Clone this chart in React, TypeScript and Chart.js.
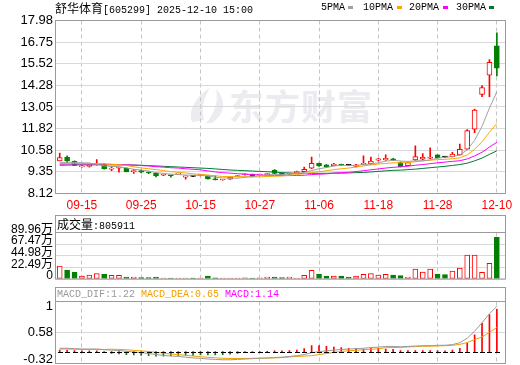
import React, { useEffect, useRef } from 'react';
import { Chart, registerables } from 'chart.js';

Chart.register(...registerables);

// ---------- data ----------
const dates = [
  '09-10', '09-11', '09-12', '09-15', '09-16', '09-17', '09-18', '09-19', '09-22', '09-23',
  '09-24', '09-25', '09-26', '09-29', '09-30', '10-09', '10-10', '10-13', '10-14', '10-15',
  '10-16', '10-17', '10-20', '10-21', '10-22', '10-23', '10-24', '10-27', '10-28', '10-29',
  '10-30', '10-31', '11-03', '11-04', '11-05', '11-06', '11-07', '11-10', '11-11', '11-12',
  '11-13', '11-14', '11-17', '11-18', '11-19', '11-20', '11-21', '11-24', '11-25', '11-26',
  '11-27', '11-28', '12-01', '12-02', '12-03', '12-04', '12-05', '12-08', '12-09', '12-10',
];
const opens = [
  9.98, 10.18, 9.96, 9.64, 9.66, 9.75, 9.78, 9.51, 9.56, 9.56,
  9.37, 9.42, 9.33, 9.27, 9.16, 9.18, 9.22, 9.05, 9.10, 9.15,
  9.12, 8.94, 8.89, 8.93, 9.08, 9.19, 9.22, 9.17, 9.20, 9.46,
  9.27, 9.22, 9.31, 9.37, 9.56, 9.84, 9.75, 9.71, 9.76, 9.72,
  9.66, 9.77, 9.80, 10.02, 10.03, 10.09, 9.88, 9.71, 10.03, 10.07,
  10.13, 10.32, 10.19, 10.22, 10.32, 10.64, 11.78, 13.77, 14.87, 16.53,
];
const highs = [
  10.43, 10.26, 9.98, 9.71, 9.75, 10.05, 9.82, 9.65, 9.63, 9.58,
  9.50, 9.45, 9.36, 9.29, 9.23, 9.19, 9.28, 9.13, 9.12, 9.21,
  9.14, 9.12, 8.93, 9.07, 9.15, 9.24, 9.23, 9.22, 9.25, 9.48,
  9.29, 9.29, 9.40, 9.62, 10.19, 9.86, 9.77, 9.84, 9.80, 9.75,
  9.78, 10.26, 10.19, 10.12, 10.32, 10.13, 9.92, 9.92, 10.83, 10.40,
  10.73, 10.34, 10.21, 10.47, 10.94, 11.76, 12.93, 14.27, 15.75, 17.28,
];
const lows = [
  9.97, 9.88, 9.70, 9.62, 9.62, 9.74, 9.50, 9.42, 9.33, 9.35,
  9.27, 9.30, 9.25, 9.07, 9.14, 9.05, 9.20, 8.93, 9.08, 9.12,
  8.93, 8.89, 8.88, 8.92, 9.06, 9.17, 9.06, 9.15, 9.18, 9.25,
  9.16, 9.20, 9.30, 9.36, 9.54, 9.67, 9.60, 9.69, 9.71, 9.70,
  9.64, 9.75, 9.78, 9.98, 10.00, 9.99, 9.63, 9.69, 10.01, 10.05,
  10.11, 10.14, 10.17, 10.20, 10.30, 10.62, 11.59, 13.64, 13.64, 14.82,
];
const closes = [
  10.17, 9.99, 9.72, 9.69, 9.72, 9.80, 9.54, 9.56, 9.61, 9.37,
  9.42, 9.33, 9.29, 9.12, 9.21, 9.13, 9.26, 9.12, 9.10, 9.19,
  8.95, 8.90, 8.92, 9.05, 9.13, 9.22, 9.08, 9.20, 9.23, 9.27,
  9.18, 9.27, 9.37, 9.50, 9.84, 9.69, 9.62, 9.79, 9.73, 9.72,
  9.75, 9.84, 9.97, 10.09, 10.13, 10.02, 9.65, 9.88, 10.22, 10.19,
  10.19, 10.16, 10.19, 10.37, 10.64, 11.70, 12.87, 14.16, 15.60, 15.26,
];
// volume in 万 (10k shares)
const volumes = [
  25.2, 16.8, 13.5, 5.8, 7.7, 10.3, 9.0, 7.1, 7.1, 3.9,
  3.9, 2.6, 2.6, 3.9, 2.0, 1.8, 1.9, 2.0, 1.7, 1.9,
  5.5, 2.1, 1.9, 2.0, 1.8, 2.1, 2.0, 2.2, 3.5, 3.5,
  2.6, 3.5, 2.0, 7.2, 16.8, 9.7, 5.8, 5.8, 5.8, 3.9,
  5.8, 9.0, 10.3, 7.7, 9.0, 7.7, 6.4, 3.9, 19.3, 13.5,
  19.3, 9.7, 8.4, 15.5, 21.3, 46.4, 46.4, 12.9, 30.3, 80.5911,
];
const ma5 = [
  9.87, 9.91, 9.89, 9.87, 9.86, 9.78, 9.69, 9.66, 9.65, 9.58,
  9.50, 9.46, 9.40, 9.31, 9.27, 9.22, 9.20, 9.17, 9.16, 9.16,
  9.12, 9.05, 9.01, 9.00, 8.99, 9.04, 9.08, 9.14, 9.17, 9.20,
  9.19, 9.23, 9.26, 9.32, 9.43, 9.53, 9.60, 9.69, 9.73, 9.71,
  9.72, 9.77, 9.80, 9.87, 9.96, 10.01, 9.97, 9.95, 9.98, 9.99,
  10.03, 10.13, 10.19, 10.22, 10.31, 10.61, 11.15, 11.95, 12.99, 13.92,
];
const ma10 = [
  9.83, 9.85, 9.84, 9.83, 9.82, 9.83, 9.80, 9.78, 9.76, 9.72,
  9.64, 9.58, 9.53, 9.48, 9.43, 9.36, 9.33, 9.29, 9.24, 9.22,
  9.17, 9.13, 9.09, 9.08, 9.08, 9.08, 9.07, 9.07, 9.09, 9.10,
  9.12, 9.16, 9.20, 9.25, 9.32, 9.36, 9.42, 9.48, 9.53, 9.57,
  9.63, 9.69, 9.75, 9.80, 9.83, 9.87, 9.87, 9.88, 9.93, 9.97,
  10.02, 10.05, 10.07, 10.10, 10.15, 10.32, 10.64, 11.07, 11.61, 12.11,
];
const ma20 = [
  9.79, 9.80, 9.80, 9.80, 9.80, 9.80, 9.79, 9.78, 9.77, 9.75,
  9.74, 9.71, 9.69, 9.65, 9.62, 9.59, 9.57, 9.53, 9.50, 9.47,
  9.41, 9.35, 9.31, 9.28, 9.25, 9.22, 9.20, 9.18, 9.16, 9.16,
  9.14, 9.14, 9.15, 9.16, 9.20, 9.22, 9.24, 9.28, 9.31, 9.33,
  9.37, 9.42, 9.47, 9.52, 9.57, 9.61, 9.64, 9.68, 9.73, 9.77,
  9.82, 9.87, 9.91, 9.95, 9.99, 10.09, 10.26, 10.47, 10.77, 11.04,
];
const ma30 = [
  9.73, 9.74, 9.75, 9.75, 9.75, 9.76, 9.76, 9.75, 9.75, 9.75,
  9.74, 9.73, 9.71, 9.69, 9.67, 9.65, 9.63, 9.61, 9.59, 9.57,
  9.55, 9.52, 9.49, 9.46, 9.44, 9.42, 9.40, 9.38, 9.36, 9.34,
  9.31, 9.29, 9.27, 9.27, 9.27, 9.27, 9.27, 9.28, 9.28, 9.29,
  9.31, 9.32, 9.35, 9.38, 9.41, 9.44, 9.45, 9.48, 9.51, 9.55,
  9.59, 9.63, 9.67, 9.72, 9.77, 9.85, 9.98, 10.14, 10.35, 10.55,
];
const dif = [
  0.09, 0.09, 0.08, 0.07, 0.07, 0.07, 0.05, 0.04, 0.03, 0.01,
  -0.01, -0.03, -0.05, -0.08, -0.10, -0.12, -0.13, -0.15, -0.17, -0.18,
  -0.20, -0.21, -0.22, -0.22, -0.21, -0.20, -0.19, -0.18, -0.17, -0.16,
  -0.15, -0.13, -0.11, -0.08, -0.03, 0.00, 0.02, 0.04, 0.06, 0.07,
  0.08, 0.09, 0.11, 0.12, 0.14, 0.14, 0.13, 0.14, 0.15, 0.16,
  0.16, 0.17, 0.17, 0.19, 0.24, 0.36, 0.55, 0.78, 1.02, 1.22,
];
const dea = [
  0.07, 0.07, 0.065, 0.06, 0.06, 0.06, 0.06, 0.065, 0.06, 0.05,
  0.035, 0.02, 0.005, -0.02, -0.04, -0.065, -0.08, -0.10, -0.12, -0.135,
  -0.155, -0.165, -0.18, -0.185, -0.185, -0.185, -0.18, -0.175, -0.175, -0.17,
  -0.16, -0.145, -0.13, -0.12, -0.11, -0.08, -0.05, -0.02, 0.005, 0.025,
  0.035, 0.055, 0.065, 0.075, 0.105, 0.11, 0.115, 0.125, 0.135, 0.145,
  0.145, 0.155, 0.16, 0.17, 0.195, 0.245, 0.325, 0.395, 0.52, 0.65,
];
const macd = [
  0.04, 0.04, 0.03, 0.02, 0.02, 0.02, -0.02, -0.05, -0.06, -0.08,
  -0.09, -0.10, -0.11, -0.12, -0.12, -0.11, -0.10, -0.10, -0.10, -0.09,
  -0.09, -0.09, -0.08, -0.07, -0.05, -0.03, -0.02, -0.01, 0.01, 0.02,
  0.02, 0.03, 0.04, 0.08, 0.16, 0.16, 0.14, 0.12, 0.11, 0.09,
  0.09, 0.07, 0.09, 0.09, 0.07, 0.06, 0.03, 0.03, 0.03, 0.03,
  0.03, 0.03, 0.02, 0.04, 0.09, 0.23, 0.45, 0.77, 1.00, 1.14,
];
const dateTickIndex = [3, 11, 19, 27, 35, 43, 51, 59];
const priceTicks = [8.12, 9.35, 10.58, 11.82, 13.05, 14.28, 15.52, 16.75, 17.98];
const volumeTicks = [0, 22.49, 44.98, 67.47, 89.96];
const macdTickLabels = ['-0.32', '0.58', '1'];

const stockTitle = '舒华体育[605299] 2025-12-10 15:00';
const volumeTitle = '成交量';
const volumeLast = '805911';
const maLegend = ['5PMA', '10PMA', '20PMA', '30PMA'];

// ---------- style ----------
const UP = '#ff0000';
const DOWN = '#008000';
const FLAT = '#000000';
const MA_COLORS = ['#a0a0a0', '#f7a800', '#ff00ff', '#007a33'];
const FRAME = '#9a9a9a';
const HGRID = '#d9d9d9';
const VGRID = '#c4c4c4';
const AXIS_FONT = "'Liberation Sans', Arial, sans-serif";
const MONO = "'Liberation Mono', 'DejaVu Sans Mono', monospace";
const CJK = "'Noto Sans CJK SC', sans-serif";

const dir = (i: number) => (closes[i] > opens[i] ? 1 : closes[i] < opens[i] ? -1 : 0);
const candleColor = (i: number) => (dir(i) > 0 ? UP : dir(i) < 0 ? DOWN : FLAT);

const X_MIN = -0.5;
const X_MAX = 60.1;

function xScale(showLabels: boolean, height: number) {
  return {
    type: 'linear' as const,
    min: X_MIN,
    max: X_MAX,
    offset: false,
    afterBuildTicks: (s: any) => {
      s.ticks = dateTickIndex.map((v) => ({ value: v }));
    },
    afterFit: (s: any) => {
      s.height = height;
    },
    ticks: {
      display: showLabels,
      autoSkip: false,
      maxRotation: 0,
      padding: 5,
      color: '#ff0000',
      font: { family: "'Liberation Sans', Arial, sans-serif", size: 12 },
      callback: (v: any) => dates[v as number] ?? '',
    },
    grid: { color: VGRID, drawTicks: false, lineWidth: 1, offset: false },
    border: { display: false, dash: [4, 3] },
  };
}

function framePlugin(headerTop: number | null) {
  return {
    id: 'frame' + (headerTop ?? 'n'),
    afterDraw(chart: any) {
      const { ctx, chartArea: a } = chart;
      const top = headerTop ?? a.top;
      ctx.save();
      ctx.strokeStyle = FRAME;
      ctx.lineWidth = 1;
      ctx.setLineDash([]);
      ctx.strokeRect(a.left - 0.5, top, a.right - a.left + 1, a.bottom - top);
      if (headerTop != null) {
        ctx.beginPath();
        ctx.moveTo(a.left - 0.5, a.top);
        ctx.lineTo(a.right + 0.5, a.top);
        ctx.stroke();
      }
      ctx.restore();
    },
  };
}

const zeroDashPlugin = {
  id: 'zeroDash',
  afterDatasetsDraw(chart: any) {
    const { ctx } = chart;
    const xs = chart.scales.x;
    const ys = chart.scales.y;
    const y0 = Math.round(ys.getPixelForValue(0));
    ctx.save();
    ctx.fillStyle = '#000';
    dates.forEach((_, i) => {
      const x = Math.round(xs.getPixelForValue(i));
      ctx.fillRect(x - 2, y0, 5, 1);
    });
    ctx.restore();
  },
};

const baseOptions = {
  responsive: false,
  maintainAspectRatio: false,
  animation: false as const,
  events: [] as any[],
  plugins: { legend: { display: false }, tooltip: { enabled: false }, title: { display: false } },
};

export default function App() {
  const priceRef = useRef<HTMLCanvasElement>(null);
  const volRef = useRef<HTMLCanvasElement>(null);
  const macdRef = useRef<HTMLCanvasElement>(null);

  useEffect(() => {
    const xy = (arr: number[]) => arr.map((v, i) => ({ x: i, y: v }));
    const maSets = [ma5, ma10, ma20, ma30].map((arr, k) => ({
      type: 'line' as const,
      label: maLegend[k],
      data: xy(arr),
      borderColor: MA_COLORS[k],
      borderWidth: 1,
      pointRadius: 0,
      tension: 0,
      order: 0,
    }));

    const price = new Chart(priceRef.current!, {
      type: 'bar',
      data: {
        datasets: [
          ...maSets,
          {
            type: 'bar',
            label: 'body',
            data: opens.map((o, i) => ({ x: i, y: [o, closes[i]] })) as any,
            backgroundColor: opens.map((_, i) => (dir(i) > 0 ? '#ffffff' : candleColor(i))),
            borderColor: opens.map((_, i) => candleColor(i)),
            borderWidth: 1,
            borderSkipped: false,
            barThickness: 5,
            minBarLength: 1,
            grouped: false,
            order: 1,
          },
          {
            type: 'bar',
            label: 'wick',
            data: lows.map((l, i) => ({ x: i, y: [l, highs[i]] })) as any,
            backgroundColor: lows.map((_, i) => candleColor(i)),
            borderWidth: 0,
            barThickness: 1,
            grouped: false,
            order: 2,
          },
        ] as any,
      },
      options: {
        ...baseOptions,
        layout: { padding: { left: 0, right: 15, top: 20.5, bottom: 0 } },
        scales: {
          x: xScale(true, 18.5),
          y: {
            type: 'linear',
            position: 'left',
            min: priceTicks[0],
            max: priceTicks[priceTicks.length - 1],
            afterBuildTicks: (s: any) => {
              s.ticks = priceTicks.map((v) => ({ value: v }));
            },
            afterFit: (s: any) => {
              s.width = 56;
            },
            ticks: {
              autoSkip: false,
              padding: 3,
              color: '#000',
              font: { family: AXIS_FONT, size: 13 },
              callback: (v: any) => (v as number).toFixed(2),
            },
            grid: { color: HGRID, drawTicks: false },
            border: { display: false },
          },
        },
      } as any,
      plugins: [framePlugin(null)],
    });

    const vol = new Chart(volRef.current!, {
      type: 'bar',
      data: {
        datasets: [
          {
            label: 'volume',
            data: xy(volumes) as any,
            backgroundColor: volumes.map((_, i) => (dir(i) > 0 ? '#ffffff' : DOWN)),
            borderColor: volumes.map((_, i) => (dir(i) > 0 ? UP : DOWN)),
            borderWidth: 1,
            borderSkipped: false,
            barThickness: 5,
            grouped: false,
          },
        ],
      },
      options: {
        ...baseOptions,
        layout: { padding: { left: 0, right: 15, top: 19.5, bottom: 0 } },
        scales: {
          x: xScale(false, 24),
          y: {
            type: 'linear',
            position: 'left',
            min: 0,
            max: volumeTicks[volumeTicks.length - 1],
            afterBuildTicks: (s: any) => {
              s.ticks = volumeTicks.map((v) => ({ value: v }));
            },
            afterFit: (s: any) => {
              s.width = 56;
            },
            ticks: {
              autoSkip: false,
              padding: 3,
              labelOffset: -3,
              color: '#000',
              font: { family: "'Liberation Sans', 'Noto Sans CJK SC', sans-serif", size: 12 },
              callback: (v: any) => ((v as number) === 0 ? '0' : (v as number).toFixed(2) + '万'),
            },
            grid: { color: HGRID, drawTicks: false },
            border: { display: false },
          },
        },
      } as any,
      plugins: [framePlugin(2.5)],
    });

    const mac = new Chart(macdRef.current!, {
      type: 'bar',
      data: {
        datasets: [
          {
            type: 'line',
            label: 'DIF',
            data: xy(dif),
            borderColor: '#999999',
            borderWidth: 1,
            pointRadius: 0,
            order: 0,
          },
          {
            type: 'line',
            label: 'DEA',
            data: xy(dea),
            borderColor: '#f0a000',
            borderWidth: 1,
            pointRadius: 0,
            order: 0,
          },
          {
            type: 'bar',
            label: 'MACD',
            data: xy(macd),
            backgroundColor: macd.map((v) => (v >= 0 ? UP : DOWN)),
            borderWidth: 0,
            barThickness: 1,
            grouped: false,
            order: 1,
          },
        ] as any,
      },
      options: {
        ...baseOptions,
        layout: { padding: { left: 0, right: 15, top: 18.5, bottom: 0 } },
        scales: {
          x: xScale(false, 19.5),
          y: {
            type: 'linear',
            position: 'left',
            min: -0.32,
            max: 1.35,
            afterBuildTicks: (s: any) => {
              const lo = -0.2;
              const hi = 1.22;
              s.ticks = [lo, (s.min + s.max) / 2, hi].map((v) => ({ value: v }));
            },
            afterFit: (s: any) => {
              s.width = 56;
            },
            ticks: {
              autoSkip: false,
              padding: 3,
              color: '#000',
              font: { family: AXIS_FONT, size: 13 },
              callback: (_v: any, idx: number) => macdTickLabels[idx],
            },
            grid: {
              drawTicks: false,
              color: (c: any) => (c.index === 1 ? HGRID : 'rgba(0,0,0,0)'),
            },
            border: { display: false },
          },
        },
      } as any,
      plugins: [framePlugin(4.5), zeroDashPlugin],
    });

    return () => {
      price.destroy();
      vol.destroy();
      mac.destroy();
    };
  }, []);

  const abs = (l: number, t: number): React.CSSProperties => ({ position: 'absolute', left: l, top: t });
  const legendLeft = [321, 363, 409, 456];
  const swatchLeft = [348, 397, 443, 489];

  return (
    <div
      style={{
        position: 'fixed',
        left: 0,
        top: 0,
        width: 520,
        height: 365,
        background: '#ffffff',
        overflow: 'hidden',
      }}
    >
      {/* watermark */}
      <svg style={{ ...abs(188, 86) }} width={38} height={38} viewBox="0 0 38 38">
        <path d="M4 36 C 0 24, 8 10, 22 2 C 15 13, 13 24, 16 34 Z" fill="#ebebf0" />
        <path d="M18 37 C 26 28, 31 16, 28 3 C 38 13, 38 28, 24 37 Z" fill="#ebebf0" />
      </svg>
      <div
        style={{
          ...abs(229, 86),
          fontFamily: CJK,
          fontWeight: 700,
          fontSize: 35,
          lineHeight: '38px',
          color: '#ebebf0',
          letterSpacing: 1,
          whiteSpace: 'nowrap',
        }}
      >
        东方财富
      </div>

      <canvas ref={priceRef} width={520} height={212} style={{ ...abs(0, 0), width: 520, height: 212 }} />
      <canvas ref={volRef} width={520} height={90} style={{ ...abs(0, 213), width: 520, height: 90 }} />
      <canvas ref={macdRef} width={520} height={100} style={{ ...abs(0, 283), width: 520, height: 100 }} />

      {/* title */}
      <div style={{ ...abs(55, 1), fontSize: 12, lineHeight: '14px', color: '#000', whiteSpace: 'nowrap' }}>
        <span style={{ fontFamily: CJK, fontSize: 12 }}>{stockTitle.slice(0, 4)}</span>
        <span style={{ fontFamily: MONO, fontSize: 10 }}>{stockTitle.slice(4)}</span>
      </div>

      {/* MA legend */}
      {maLegend.map((t, k) => (
        <React.Fragment key={t}>
          <div style={{ ...abs(legendLeft[k], 1), fontFamily: MONO, fontSize: 10, lineHeight: '14px', color: '#000' }}>{t}</div>
          <div style={{ ...abs(swatchLeft[k], 6), width: 5, height: 3, background: MA_COLORS[k] }} />
        </React.Fragment>
      ))}

      {/* volume header */}
      <div style={{ ...abs(57, 217), lineHeight: '14px', color: '#000', whiteSpace: 'nowrap' }}>
        <span style={{ fontFamily: CJK, fontSize: 12 }}>{volumeTitle}</span>
        <span style={{ fontFamily: MONO, fontSize: 10 }}>:{volumeLast}</span>
      </div>

      {/* MACD header */}
      <div style={{ ...abs(57, 288), fontFamily: MONO, fontSize: 10, lineHeight: '14px', whiteSpace: 'pre' }}>
        <span style={{ color: '#999999' }}>MACD_DIF:{dif[dif.length - 1].toFixed(2)} </span>
        <span style={{ color: '#f0a000' }}>MACD_DEA:{dea[dea.length - 1].toFixed(2)} </span>
        <span style={{ color: '#ff00ff' }}>MACD:{macd[macd.length - 1].toFixed(2)}</span>
      </div>
    </div>
  );
}
